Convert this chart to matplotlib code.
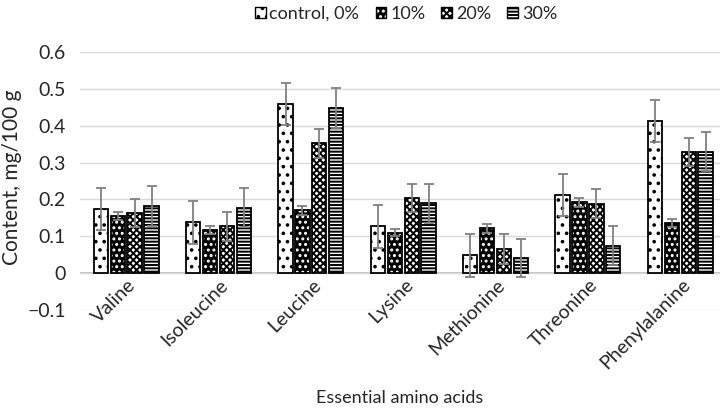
import matplotlib
matplotlib.use("Agg")
import matplotlib.pyplot as plt
import numpy as np
from matplotlib.patches import Patch

plt.rcParams['font.family'] = ['Lato', 'DejaVu Sans']
plt.rcParams['hatch.linewidth'] = 1.4

categories = ["Valine", "Isoleucine", "Leucine", "Lysine", "Methionine",
              "Threonine", "Phenylalanine"]
series_names = ["control, 0%", "10%", "20%", "30%"]

control = [0.174, 0.138, 0.458, 0.127, 0.048, 0.211, 0.413]
pct10 = [0.156, 0.118, 0.170, 0.110, 0.122, 0.192, 0.135]
pct20 = [0.163, 0.127, 0.352, 0.205, 0.066, 0.188, 0.329]
pct30 = [0.182, 0.178, 0.448, 0.190, 0.041, 0.074, 0.329]

err_control = [0.057, 0.058, 0.057, 0.058, 0.058, 0.057, 0.057]
err_10 = [0.011, 0.011, 0.011, 0.010, 0.012, 0.012, 0.011]
err_20 = [0.039, 0.039, 0.039, 0.038, 0.040, 0.039, 0.038]
err_30 = [0.054, 0.053, 0.053, 0.053, 0.052, 0.053, 0.053]

values = [control, pct10, pct20, pct30]
errors = [err_control, err_10, err_20, err_30]

# fill colour, hatch, hatch colour for each series
styles = [
    ("white", "..", "black"),
    ("black", "...", "white"),
    ("white", "xxxxx", "black"),
    ("white", "-----", "black"),
]

text_color = "#262626"
fig = plt.figure(figsize=(7.2, 4.11), dpi=100)
ax = fig.add_axes([80 / 720, 1 - 310 / 411, 640 / 720, (310 - 52) / 411])

x = np.arange(len(categories))
slot = 0.183
width = 0.155
offsets = (np.arange(4) - 1.5) * slot

for k in range(4):
    fc, hatch, hc = styles[k]
    pos = x + offsets[k]
    ax.bar(pos, values[k], width, color=fc, edgecolor=hc, hatch=hatch,
           linewidth=0, zorder=2)
    ax.bar(pos, values[k], width, fill=False, edgecolor="black",
           linewidth=1.3, zorder=3)
    ax.errorbar(pos, values[k], yerr=errors[k], fmt="none", ecolor="#808080",
                elinewidth=1.3, capsize=3.5, capthick=1.3, zorder=4)

ax.set_xlim(-0.5, 6.43)
ax.set_ylim(-0.1, 0.6)
ax.set_yticks(np.arange(-0.1, 0.61, 0.1))
ax.set_yticklabels(["\u22120.1", "0", "0.1", "0.2", "0.3", "0.4", "0.5", "0.6"],
                   fontsize=14, color=text_color)
ax.tick_params(axis="y", length=0, pad=10)
ax.set_xticks([])
ax.yaxis.grid(True, color="#d9d9d9", linewidth=1.0, zorder=0)
ax.axhline(0, color="#bfbfbf", linewidth=1.3, zorder=1)
for s in ax.spines.values():
    s.set_visible(False)

for i, name in enumerate(categories):
    ax.text(i + 0.01, -0.008, name, rotation=45, ha="right", va="top",
            rotation_mode="anchor", fontsize=14, color=text_color)

fig.text(12 / 720, 1 - 177 / 411, "Content, mg/100 g", rotation=90,
         ha="center", va="center", fontsize=15, color=text_color)
fig.text(400 / 720, 1 - 398 / 411, "Essential amino acids", ha="center",
         va="center", fontsize=13, color=text_color)

# legend keys: hatched fill underneath, black outline on top
handles = [(Patch(facecolor=styles[k][0], edgecolor=styles[k][2],
                  hatch=styles[k][1], linewidth=0),
            Patch(fill=False, edgecolor="black", linewidth=1.0))
           for k in range(4)]
fig.legend(handles, series_names, loc="center", ncol=4,
           bbox_to_anchor=(406 / 720, 1 - 14 / 411), frameon=False,
           fontsize=13, handlelength=0.6, handleheight=0.6,
           handletextpad=0.2, columnspacing=0.9, labelcolor=text_color)

fig.savefig("out.png", dpi=100)
